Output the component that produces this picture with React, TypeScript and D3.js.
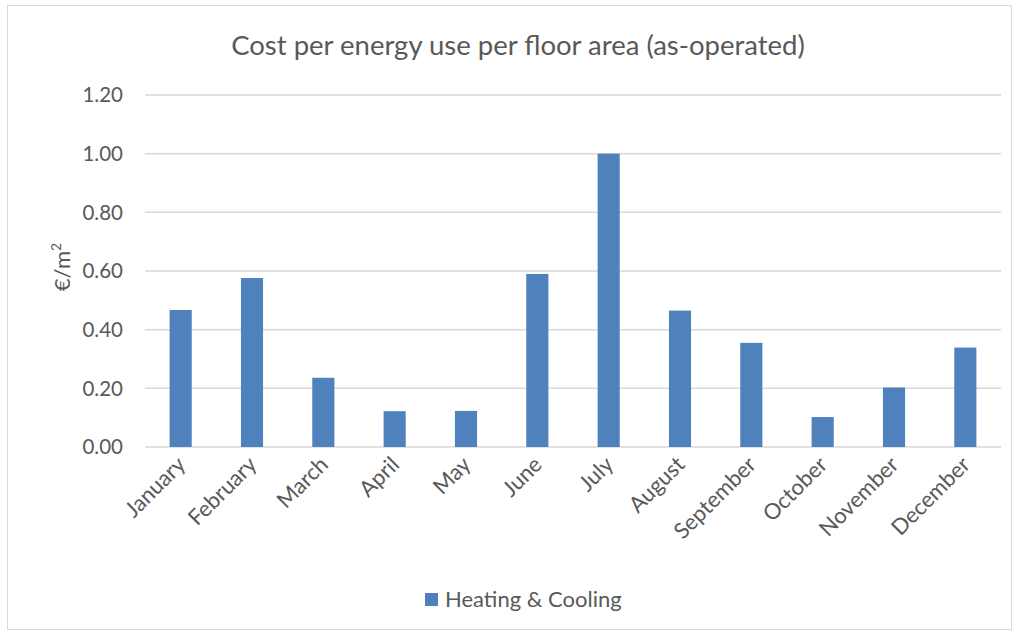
import React from 'react';
import * as d3 from 'd3';

const months = ['January', 'February', 'March', 'April', 'May', 'June', 'July', 'August', 'September', 'October', 'November', 'December'];
const costs = [0.467, 0.576, 0.236, 0.122, 0.123, 0.590, 1.0, 0.465, 0.355, 0.102, 0.203, 0.339];
const yTicks = [0, 0.2, 0.4, 0.6, 0.8, 1.0, 1.2];

const W = 1018;
const H = 635;
const font = 'Lato, "Open Sans", sans-serif';
const textColor = '#595959';
const barColor = '#4F81BD';

const App = () => {
  const margins = { l: 145, r: 17, t: 95, b: 188 };
  const x = d3.scaleBand().domain(months).range([margins.l, W - margins.r]).paddingInner(0.69).paddingOuter(0.345);
  const y = d3.scaleLinear().domain([0, 1.2]).range([H - margins.b, margins.t]);

  return (
    <svg width={W} height={H} style={{ position: 'absolute', left: 0, top: 0 }}>
      <rect x={7.5} y={5.5} width={1004} height={624} fill="#fff" stroke="#d9d9d9" />
      <text x={518} y={55} textAnchor="middle" fontFamily={font} fontSize={27.5} fill={textColor}>
        Cost per energy use per floor area (as-operated)
      </text>
      {yTicks.map(t => (
        <g key={t}>
          <line x1={margins.l} x2={W - margins.r} y1={y(t)} y2={y(t)} stroke="#d9d9d9" strokeWidth={1.5} />
          <text x={123} y={y(t)} dy="0.35em" textAnchor="end" fontFamily={font} fontSize={20.5} fill={textColor}>
            {t.toFixed(2)}
          </text>
        </g>
      ))}
      {months.map((m, i) => (
        <rect key={m} x={x(m)} y={y(costs[i])} width={x.bandwidth()} height={y(0) - y(costs[i])} fill={barColor} />
      ))}
      {months.map(m => {
        const cx = (x(m) as number) + x.bandwidth() / 2 + 6;
        return (
          <text key={m} transform={`translate(${cx},${y(0) + 19}) rotate(-45)`} textAnchor="end" fontFamily={font} fontSize={22} fill={textColor}>
            {m}
          </text>
        );
      })}
      <text transform={`translate(70,${(y(0) + y(1.2)) / 2 - 4}) rotate(-90)`} textAnchor="middle" fontFamily={font} fontSize={22} fill={textColor}>
        €/m<tspan fontSize={14} dy={-9}>2</tspan>
      </text>
      <rect x={425} y={593} width={13} height={13} fill={barColor} />
      <text x={445} y={607} fontFamily={font} fontSize={22} fill={textColor}>Heating &amp; Cooling</text>
    </svg>
  );
};

export default App;
